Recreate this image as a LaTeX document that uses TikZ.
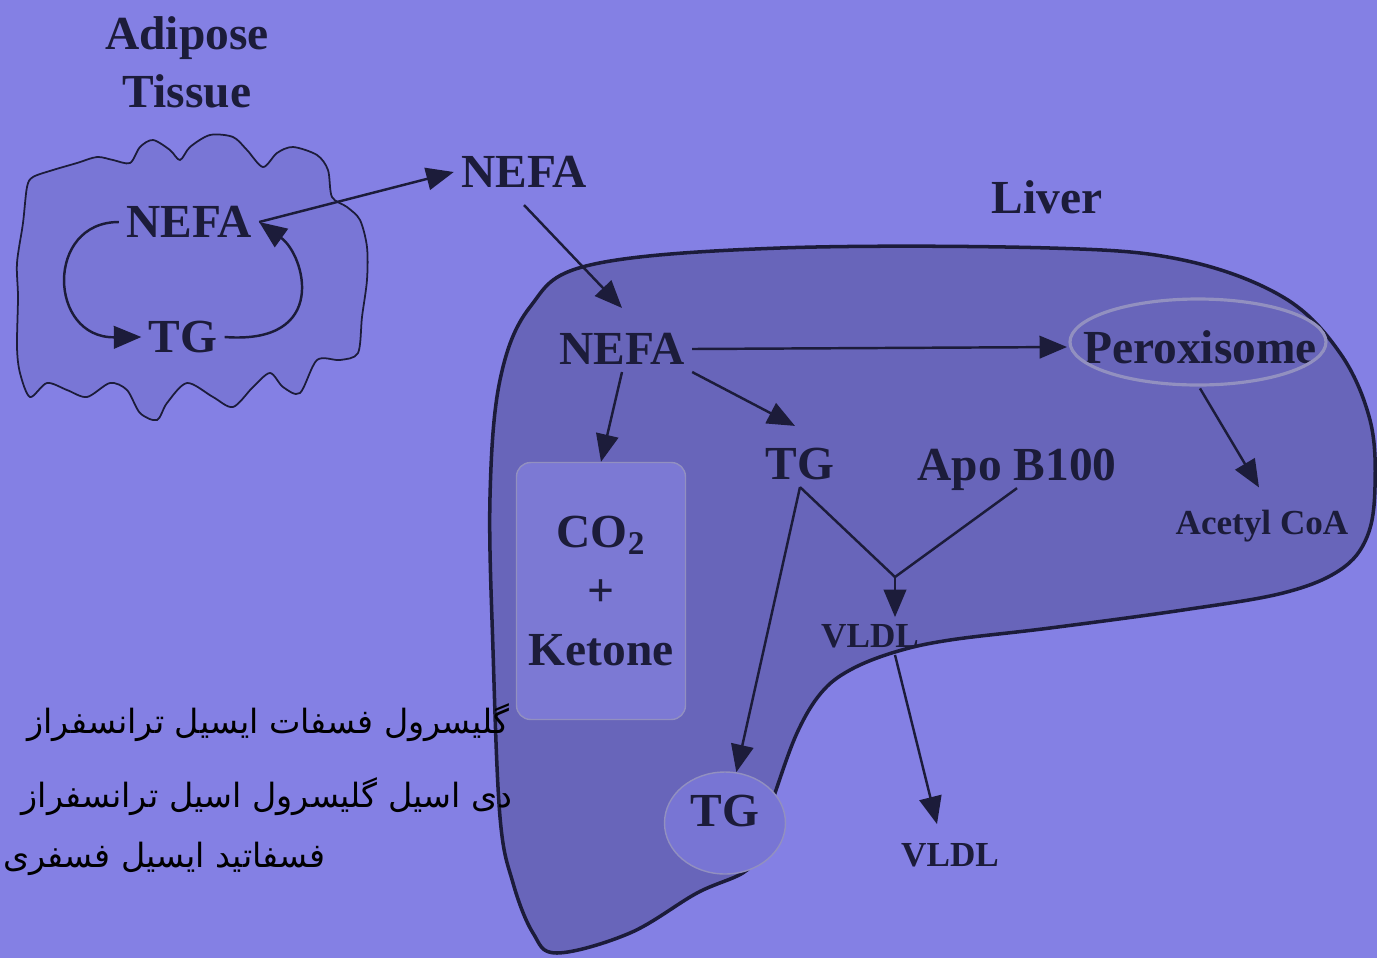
\documentclass[tikz,border=0pt]{standalone}
\usepackage{fontspec}
\setmainfont{Liberation Serif}
\newfontfamily\arabicfont[Script=Arabic]{DejaVu Sans}
\usepackage{tikz}
\usetikzlibrary{arrows.meta, positioning, shapes.geometric, calc}
\usepackage{xcolor}
\TeXXeTstate=1

\definecolor{bgblue}{RGB}{132,128,228}
\definecolor{liverfill}{RGB}{104,101,186}
\definecolor{fatfill}{RGB}{121,118,214}
\definecolor{boxfill}{RGB}{124,121,212}
\definecolor{inkdark}{RGB}{28,28,58}
\definecolor{ringgray}{RGB}{146,144,192}

\begin{document}
\begin{tikzpicture}[
      x=0.02cm, y=-0.02cm,
      lbl/.style={font=\fontsize{27}{33.5}\selectfont\bfseries, text=inkdark,
        inner sep=4pt, text depth=0pt},
      lblsmall/.style={font=\fontsize{20}{24}\selectfont\bfseries, text=inkdark,
        inner sep=4pt, text depth=0pt},
      fa/.style={font=\arabicfont\fontsize{19}{24}\selectfont, text=black,
        inner sep=0pt},
      arr/.style={draw=inkdark, line width=1.4pt,
        -{Triangle[length=5.5mm, width=4.5mm]}},
      vline/.style={draw=inkdark, line width=1.4pt},
      cobox/.style={lbl, draw=ringgray, fill=boxfill, rounded corners=8pt,
        align=center, minimum width=3.38cm, minimum height=5.14cm, line width=0.8pt},
      tgring/.style={lbl, ellipse, draw=ringgray, fill=fatfill!92!liverfill,
        minimum width=2.42cm, minimum height=2.04cm, line width=0.8pt, text depth=0.5cm}
    ]
    \useasboundingbox (0,0) rectangle (1377,958);
    \fill[bgblue] (0,0) rectangle (1377,958);

    % liver
    \draw[fill=liverfill, draw=inkdark, line width=2pt]
      plot[smooth cycle, tension=0.6] coordinates {(590,265) (780,248) (1050,248)
        (1183,260) (1283,297) (1340,353) (1370,420) (1375,487) (1367,537)
        (1340,570) (1283,593) (1183,610) (1050,628) (950,640) (895,652)
        (850,670) (821,693) (797,733) (775,793) (760,840) (747,870) (697,893)
        (630,933) (557,953) (533,933) (513,883) (500,817) (493,650) (490,497)
        (500,380) (530,307)};

    % adipose tissue
    \draw[fill=fatfill, draw=inkdark, line width=1pt]
      plot[smooth cycle, tension=0.5] coordinates {(33,177) (53,170) (77,163)
        (97,157) (113,160) (130,163) (140,147) (153,140) (170,150) (180,160)
        (190,147) (210,135) (233,137) (247,150) (263,167) (277,153) (293,147)
        (317,155) (328,170) (332,197) (347,207) (360,220) (367,247) (367,280)
        (362,317) (358,353) (340,360) (317,360) (300,393) (283,387) (270,373)
        (253,387) (233,407) (213,397) (187,383) (167,403) (157,420) (140,413)
        (127,390) (110,383) (87,397) (67,390) (47,383) (30,397) (20,373)
        (17,347) (18,297) (17,263) (23,223) (27,187)};

    \node[lbl, align=center] (adipose) at (187,62) {Adipose\\Tissue};
    \node[lbl] (cnefa) at (189,222) {NEFA};
    \node[lbl] (ctg) at (183,337) {TG};
    \node[lbl] (enefa) at (524,172) {NEFA};
    \node[lbl] (liver) at (1047,197) {Liver};

    \draw[arr] (cnefa.west) .. controls (45,222) and (48,338) .. (ctg.west);
    \draw[arr] (ctg.east) .. controls (330,345) and (305,255) .. (cnefa.east);
    \draw[arr] (cnefa.east) -- (enefa.west);

    % inside the liver
    \node[lbl] (lnefa) at (622,349) {NEFA};
    \node[lbl, inner xsep=9pt, inner ysep=14pt] (perox) at (1200,347) {Peroxisome};
    \draw[draw=ringgray, line width=1.8pt] ($(perox.center)+(-2,-5)$)
      ellipse [x radius=128, y radius=43];
    \node[lblsmall] (acetyl) at (1262,522) {Acetyl CoA};
    \node[cobox] (co2) at (601,591) {CO\textsubscript{2}\\+\\Ketone};
    \node[lbl] (mtg) at (800,464) {TG};
    \node[lbl] (apo) at (1017,465) {Apo B100};
    \coordinate (vjoin) at (895,577);
    \node[lblsmall] (vldlin) at (870,636) {VLDL};
    \node[tgring] (tgcirc) at (725,823) {TG};
    \node[lblsmall] (vldlout) at (950,855) {VLDL};

    \draw[arr] ($(enefa.south)+(0,10)$) -- ($(lnefa.north)+(0,-18)$);
    \draw[arr] (lnefa.east) -- (perox.west);
    \draw[arr] (perox.south) -- ($(acetyl.north)+(-3,-15)$);
    \draw[arr] (lnefa.south east) -- ($(mtg.north)+(-5,-15)$);
    \draw[arr] (lnefa.south) -- (co2.north);
    \draw[vline] (mtg.south) -- (vjoin) -- (apo.south);
    \draw[arr] (vjoin) -- (vjoin |- vldlin.north);
    \draw[arr] (mtg.south) -- (tgcirc);
    \draw[arr] (vldlin.south -| vjoin) -- ($(vldlout.north)+(-13,-12)$);

    % enzymes
    \node[fa, anchor=base east] (enz1) at (510,733)
      {\beginR گلیسرول فسفات  ایسیل ترانسفراز\endR};
    \node[fa, anchor=base east] (enz2) at (513,807)
      {\beginR دی اسیل گلیسرول اسیل ترانسفراز\endR};
    \node[fa, anchor=base west] (enz3) at (3,867)
      {\beginR فسفاتید ایسیل فسفری\endR};
  \end{tikzpicture}
\end{document}
